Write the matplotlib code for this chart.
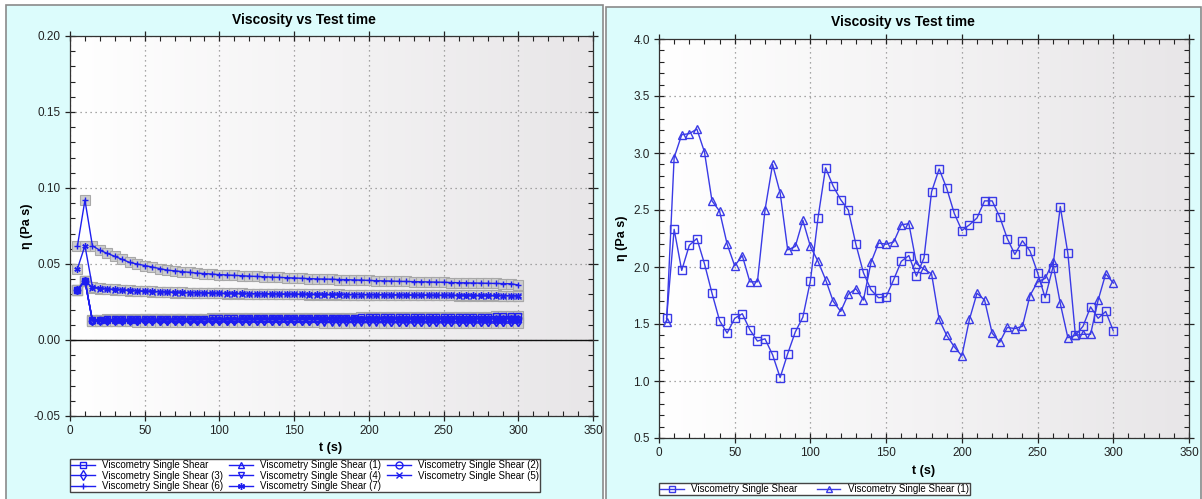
import numpy as np
import matplotlib.pyplot as plt
from matplotlib.colors import LinearSegmentedColormap
from matplotlib.lines import Line2D
from matplotlib.patches import Rectangle
from matplotlib.ticker import MultipleLocator, FormatStrFormatter

plt.rcParams['font.family'] = ['Liberation Sans', 'DejaVu Sans']

W, H = 1202, 499

#%% data: viscosity readings every 5 s
time_s = list(range(5, 305, 5))

# left: eight single-shear runs (Pa s)
shear_0 = [0.0330, 0.0390, 0.0132, 0.0134, 0.0135, 0.0135, 0.0136, 0.0136, 0.0137, 0.0137, 0.0138, 0.0138,
           0.0139, 0.0139, 0.0140, 0.0140, 0.0141, 0.0141, 0.0142, 0.0142, 0.0143, 0.0143, 0.0143, 0.0144,
           0.0144, 0.0144, 0.0145, 0.0145, 0.0145, 0.0146, 0.0146, 0.0146, 0.0147, 0.0147, 0.0147, 0.0148,
           0.0148, 0.0148, 0.0149, 0.0149, 0.0149, 0.0150, 0.0150, 0.0150, 0.0151, 0.0151, 0.0151, 0.0152,
           0.0152, 0.0152, 0.0153, 0.0153, 0.0153, 0.0154, 0.0154, 0.0154, 0.0155, 0.0155, 0.0156, 0.0156]
shear_1 = [0.0330, 0.0390, 0.0130, 0.0132, 0.0133, 0.0133, 0.0134, 0.0134, 0.0134, 0.0135, 0.0135, 0.0135,
           0.0136, 0.0136, 0.0136, 0.0136, 0.0137, 0.0137, 0.0137, 0.0137, 0.0138, 0.0138, 0.0138, 0.0138,
           0.0139, 0.0139, 0.0139, 0.0139, 0.0139, 0.0140, 0.0140, 0.0140, 0.0140, 0.0140, 0.0141, 0.0141,
           0.0141, 0.0141, 0.0141, 0.0142, 0.0142, 0.0142, 0.0142, 0.0142, 0.0143, 0.0143, 0.0143, 0.0143,
           0.0143, 0.0144, 0.0144, 0.0144, 0.0144, 0.0144, 0.0145, 0.0145, 0.0145, 0.0145, 0.0146, 0.0146]
shear_2 = [0.0330, 0.0390, 0.0128, 0.0130, 0.0130, 0.0131, 0.0131, 0.0131, 0.0132, 0.0132, 0.0132, 0.0132,
           0.0133, 0.0133, 0.0133, 0.0133, 0.0133, 0.0134, 0.0134, 0.0134, 0.0134, 0.0134, 0.0135, 0.0135,
           0.0135, 0.0135, 0.0135, 0.0135, 0.0136, 0.0136, 0.0136, 0.0136, 0.0136, 0.0136, 0.0137, 0.0137,
           0.0137, 0.0137, 0.0137, 0.0137, 0.0137, 0.0138, 0.0138, 0.0138, 0.0138, 0.0138, 0.0138, 0.0139,
           0.0139, 0.0139, 0.0139, 0.0139, 0.0139, 0.0140, 0.0140, 0.0140, 0.0140, 0.0140, 0.0141, 0.0141]
shear_3 = [0.0330, 0.0390, 0.0126, 0.0126, 0.0126, 0.0126, 0.0126, 0.0125, 0.0125, 0.0125, 0.0125, 0.0125,
           0.0125, 0.0125, 0.0125, 0.0124, 0.0124, 0.0124, 0.0124, 0.0124, 0.0124, 0.0124, 0.0124, 0.0124,
           0.0123, 0.0123, 0.0123, 0.0123, 0.0123, 0.0123, 0.0123, 0.0123, 0.0123, 0.0122, 0.0122, 0.0122,
           0.0122, 0.0122, 0.0122, 0.0122, 0.0122, 0.0122, 0.0121, 0.0121, 0.0121, 0.0121, 0.0121, 0.0121,
           0.0121, 0.0121, 0.0121, 0.0120, 0.0120, 0.0120, 0.0120, 0.0120, 0.0120, 0.0120, 0.0120, 0.0120]
shear_4 = [0.0330, 0.0390, 0.0124, 0.0123, 0.0123, 0.0122, 0.0122, 0.0122, 0.0121, 0.0121, 0.0121, 0.0120,
           0.0120, 0.0120, 0.0120, 0.0119, 0.0119, 0.0119, 0.0119, 0.0118, 0.0118, 0.0118, 0.0118, 0.0117,
           0.0117, 0.0117, 0.0117, 0.0117, 0.0116, 0.0116, 0.0116, 0.0116, 0.0116, 0.0115, 0.0115, 0.0115,
           0.0115, 0.0115, 0.0114, 0.0114, 0.0114, 0.0114, 0.0114, 0.0114, 0.0113, 0.0113, 0.0113, 0.0113,
           0.0113, 0.0113, 0.0112, 0.0112, 0.0112, 0.0112, 0.0112, 0.0112, 0.0111, 0.0111, 0.0111, 0.0111]
shear_5 = [0.0330, 0.0390, 0.0345, 0.0338, 0.0334, 0.0331, 0.0328, 0.0325, 0.0322, 0.0320, 0.0318, 0.0316,
           0.0314, 0.0312, 0.0311, 0.0310, 0.0309, 0.0308, 0.0307, 0.0306, 0.0305, 0.0305, 0.0304, 0.0303,
           0.0303, 0.0302, 0.0302, 0.0301, 0.0301, 0.0300, 0.0300, 0.0299, 0.0299, 0.0298, 0.0298, 0.0298,
           0.0297, 0.0297, 0.0297, 0.0296, 0.0296, 0.0296, 0.0295, 0.0295, 0.0295, 0.0294, 0.0294, 0.0294,
           0.0293, 0.0293, 0.0293, 0.0292, 0.0292, 0.0292, 0.0291, 0.0291, 0.0291, 0.0290, 0.0290, 0.0288]
shear_6 = [0.0620, 0.0920, 0.0620, 0.0590, 0.0570, 0.0550, 0.0530, 0.0510, 0.0500, 0.0490, 0.0480, 0.0470,
           0.0460, 0.0455, 0.0450, 0.0445, 0.0440, 0.0437, 0.0434, 0.0430, 0.0428, 0.0425, 0.0423, 0.0420,
           0.0418, 0.0416, 0.0414, 0.0412, 0.0410, 0.0408, 0.0406, 0.0404, 0.0402, 0.0401, 0.0400, 0.0398,
           0.0397, 0.0395, 0.0394, 0.0392, 0.0390, 0.0389, 0.0388, 0.0386, 0.0385, 0.0384, 0.0383, 0.0382,
           0.0381, 0.0380, 0.0378, 0.0377, 0.0376, 0.0375, 0.0374, 0.0373, 0.0372, 0.0371, 0.0370, 0.0362]
shear_7 = [0.0470, 0.0620, 0.0350, 0.0341, 0.0336, 0.0333, 0.0330, 0.0327, 0.0324, 0.0322, 0.0320, 0.0318,
           0.0316, 0.0314, 0.0313, 0.0312, 0.0311, 0.0310, 0.0309, 0.0308, 0.0307, 0.0307, 0.0306, 0.0305,
           0.0305, 0.0304, 0.0304, 0.0303, 0.0303, 0.0302, 0.0302, 0.0301, 0.0301, 0.0300, 0.0300, 0.0300,
           0.0299, 0.0299, 0.0299, 0.0298, 0.0298, 0.0298, 0.0297, 0.0297, 0.0297, 0.0296, 0.0296, 0.0296,
           0.0295, 0.0295, 0.0295, 0.0294, 0.0294, 0.0294, 0.0293, 0.0293, 0.0293, 0.0292, 0.0292, 0.0290]

# right: two noisier runs (Pa s)
visc_a = [1.55, 2.33, 1.97, 2.19, 2.25, 2.03, 1.77, 1.53, 1.42, 1.55, 1.59, 1.45,
          1.35, 1.37, 1.23, 1.03, 1.24, 1.43, 1.56, 1.88, 2.43, 2.87, 2.71, 2.59,
          2.50, 2.20, 1.95, 1.80, 1.73, 1.74, 1.89, 2.05, 2.10, 1.92, 2.08, 2.66,
          2.86, 2.69, 2.47, 2.32, 2.37, 2.43, 2.58, 2.58, 2.44, 2.25, 2.11, 2.23,
          2.14, 1.95, 1.73, 1.99, 2.53, 2.12, 1.40, 1.48, 1.65, 1.55, 1.61, 1.44]
visc_b = [1.52, 2.96, 3.16, 3.17, 3.21, 3.01, 2.58, 2.49, 2.20, 2.01, 2.10, 1.87,
          1.87, 2.50, 2.90, 2.65, 2.15, 2.18, 2.41, 2.18, 2.05, 1.89, 1.70, 1.61,
          1.76, 1.81, 1.71, 2.04, 2.21, 2.20, 2.22, 2.37, 2.38, 2.03, 1.98, 1.94,
          1.54, 1.40, 1.30, 1.22, 1.54, 1.77, 1.71, 1.42, 1.34, 1.47, 1.46, 1.48,
          1.75, 1.87, 1.90, 2.04, 1.68, 1.38, 1.40, 1.41, 1.41, 1.71, 1.94, 1.86]

names = ['Viscometry Single Shear'] + ['Viscometry Single Shear (%d)' % i for i in range(1, 8)]

#%% helpers
def px_rect(x0, y0, x1, y1):
    # pixel box (origin top-left) -> figure fraction
    return [x0 / W, 1 - y1 / H, (x1 - x0) / W, (y1 - y0) / H]

bg_cmap = LinearSegmentedColormap.from_list('bg', ['#ffffff', '#e8e6e8'])
grad = np.linspace(0, 1, 256).reshape(1, -1)

def style_axes(ax, ylim, ymajor, yminor, fmt):
    ax.imshow(grad, extent=[0, 1, 0, 1], transform=ax.transAxes, cmap=bg_cmap,
              aspect='auto', zorder=-1)
    ax.set_xlim(0, 350)
    ax.set_ylim(*ylim)
    ax.xaxis.set_major_locator(MultipleLocator(50))
    ax.xaxis.set_minor_locator(MultipleLocator(10))
    ax.yaxis.set_major_locator(MultipleLocator(ymajor))
    ax.yaxis.set_minor_locator(MultipleLocator(yminor))
    ax.yaxis.set_major_formatter(FormatStrFormatter(fmt))
    ax.set_axisbelow(True)
    ax.grid(True, which='major', color='#8c8c8c', lw=0.9, ls=(0, (1, 3)))
    ax.tick_params(which='major', direction='inout', length=7, width=0.9,
                   top=True, right=True, labelsize=8.5, colors='#222222', pad=3)
    ax.tick_params(which='minor', direction='in', length=3.5, width=0.8,
                   top=True, right=True, colors='#222222')
    for s in ax.spines.values():
        s.set_color('#333333')
        s.set_linewidth(0.9)

def panel(x0, y0, x1, y1):
    fig.patches.append(Rectangle((x0 / W, 1 - y1 / H), (x1 - x0) / W, (y1 - y0) / H,
                                 transform=fig.transFigure, facecolor='#dcfcfc',
                                 edgecolor='#8a8a8a', lw=1.2, zorder=-10))

fig = plt.figure(figsize=(W / 100, H / 100), dpi=100)
fig.patch.set_facecolor('white')
panel(6, 5, 603, 500)
panel(606, 7, 1201, 500)

#%% left chart
blue = '#1e1ef0'
markers = ['s', '^', 'o', 'd', 'v', 'x', '+', (6, 2, 0)]
series = [shear_0, shear_1, shear_2, shear_3, shear_4, shear_5, shear_6, shear_7]

ax1 = fig.add_axes(px_rect(70, 36, 593, 416))
style_axes(ax1, (-0.05, 0.20), 0.05, 0.01, '%.2f')
ax1.axhline(0, color='#111111', lw=1.0, zorder=1)
for y in series:
    ax1.plot(time_s, y, ls='none', marker='s', ms=7.5, mfc='#cdcdcd', mec='#a8a8a8',
             mew=0.8, zorder=2)
for y, m in zip(series, markers):
    ax1.plot(time_s, y, color=blue, lw=1.0, marker=m, ms=4.5, mfc='none', mec=blue,
             mew=1.0, zorder=3)

fig.text(304 / W, 1 - 20 / H, 'Viscosity vs Test time', ha='center', va='center',
         fontsize=10, fontweight='bold')
fig.text(331 / W, 1 - 448 / H, 't (s)', ha='center', va='center', fontsize=9, fontweight='bold')
fig.text(27 / W, 1 - 226 / H, 'η (Pa s)', ha='center', va='center', rotation=90,
         fontsize=9, fontweight='bold')

handles = [Line2D([], [], color=blue, lw=1.0, marker=m, ms=5, mfc='none', mec=blue)
           for m in markers]
order = [0, 3, 6, 1, 4, 7, 2, 5]
leg1 = fig.legend([handles[i] for i in order], [names[i] for i in order], ncol=3,
                  loc='upper left', bbox_to_anchor=(70 / W, 1 - 459 / H),
                  bbox_transform=fig.transFigure, borderaxespad=0, fontsize=7,
                  fancybox=False, edgecolor='#444444', framealpha=1, borderpad=0.12,
                  labelspacing=0.05, handlelength=2.4, handletextpad=0.8, columnspacing=0.6)
leg1.get_frame().set_linewidth(1.0)

#%% right chart
blue2 = '#3a3ae6'
ax2 = fig.add_axes(px_rect(659, 39, 1189, 438))
style_axes(ax2, (0.5, 4.0), 0.5, 0.1, '%.1f')
ax2.plot(time_s, visc_a, color=blue2, lw=1.0, marker='s', ms=5.8, mfc='none', mec=blue2, mew=1.0)
ax2.plot(time_s, visc_b, color=blue2, lw=1.0, marker='^', ms=5.5, mfc='none', mec=blue2, mew=1.0)

fig.text(903 / W, 1 - 22 / H, 'Viscosity vs Test time', ha='center', va='center',
         fontsize=10, fontweight='bold')
fig.text(924 / W, 1 - 471 / H, 't (s)', ha='center', va='center', fontsize=9, fontweight='bold')
fig.text(622 / W, 1 - 238 / H, 'η (Pa s)', ha='center', va='center', rotation=90,
         fontsize=9, fontweight='bold')

h2 = [Line2D([], [], color=blue2, lw=1.0, marker=m, ms=5, mfc='none', mec=blue2)
      for m in ['s', '^']]
leg2 = fig.legend(h2, names[:2], ncol=2, loc='upper left',
                  bbox_to_anchor=(659 / W, 1 - 483 / H), bbox_transform=fig.transFigure,
                  borderaxespad=0, fontsize=7, fancybox=False, edgecolor='#444444',
                  framealpha=1, borderpad=0.12, handlelength=2.4, handletextpad=0.8,
                  columnspacing=2.0)
leg2.get_frame().set_linewidth(1.0)

fig.savefig('out.png', dpi=100)
